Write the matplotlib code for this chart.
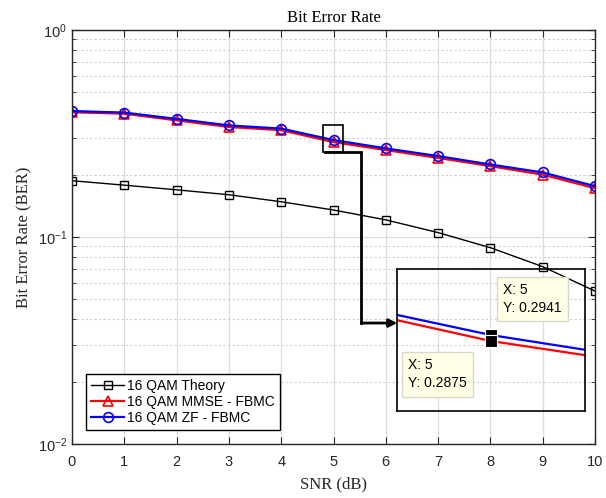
import matplotlib
matplotlib.use("Agg")
import matplotlib.pyplot as plt
from matplotlib.patches import Rectangle
from matplotlib.ticker import LogLocator, NullFormatter

snr_db = [0, 1, 2, 3, 4, 5, 6, 7, 8, 9, 10]
ber_theory = [0.187, 0.178, 0.169, 0.160, 0.148, 0.135, 0.121, 0.105, 0.0888, 0.0719, 0.0548]
ber_mmse = [0.401, 0.394, 0.366, 0.340, 0.328, 0.2875, 0.263, 0.241, 0.220, 0.200, 0.172]
ber_zf = [0.406, 0.399, 0.372, 0.346, 0.334, 0.2941, 0.268, 0.246, 0.224, 0.205, 0.176]

tip_x = 5
tip_mmse = 0.2875
tip_zf = 0.2941

SERIF = "Liberation Serif"
SANS = "Liberation Sans"
AX_COL = "#262626"

plt.rcParams["mathtext.fontset"] = "custom"
plt.rcParams["mathtext.rm"] = SANS
plt.rcParams["mathtext.it"] = SANS + ":italic"
plt.rcParams["mathtext.default"] = "regular"

fig = plt.figure(figsize=(6.06, 4.98), dpi=100)
ax = fig.add_axes([72 / 606, 1 - 444 / 498, 523 / 606, 414 / 498])

ax.semilogy(snr_db, ber_theory, "-s", color="black", lw=1.0, ms=5.5,
            mfc="none", mew=1.0, label="16 QAM Theory")
ax.semilogy(snr_db, ber_mmse, "-^", color="red", lw=1.6, ms=7,
            mfc="none", mew=1.2, label="16 QAM MMSE - FBMC")
ax.semilogy(snr_db, ber_zf, "-o", color="blue", lw=1.6, ms=7,
            mfc="none", mew=1.2, label="16 QAM ZF - FBMC")

ax.set_xlim(0, 10)
ax.set_ylim(1e-2, 1)
ax.set_xticks(snr_db)
ax.yaxis.set_major_locator(LogLocator(base=10, numticks=5))
ax.yaxis.set_minor_locator(LogLocator(base=10, subs=range(2, 10), numticks=20))
ax.yaxis.set_minor_formatter(NullFormatter())

ax.grid(True, which="major", color="#dcdcdc", lw=0.9, ls="-")
ax.grid(True, which="minor", axis="y", color="#d0d0d0", lw=0.8, ls=(0, (2, 2)))
ax.set_axisbelow(True)

ax.tick_params(which="both", direction="in", top=True, right=True,
               colors=AX_COL, labelcolor=AX_COL, labelsize=10.5)
ax.tick_params(which="major", length=5)
ax.tick_params(which="minor", length=3)
ax.tick_params(axis="x", which="major", pad=8)
for lab in ax.get_xticklabels() + ax.get_yticklabels():
    lab.set_fontfamily(SANS)
for sp in ax.spines.values():
    sp.set_color(AX_COL)
    sp.set_linewidth(1.0)

ax.set_title("Bit Error Rate", family=SERIF, fontsize=12, pad=6)
ax.set_xlabel("SNR (dB)", family=SERIF, fontsize=12, labelpad=5, color=AX_COL)
ax.set_ylabel("Bit Error Rate (BER)", family=SERIF, fontsize=12, labelpad=4,
              color=AX_COL)

leg = ax.legend(loc="lower left", bbox_to_anchor=(0.027, 0.034), fancybox=False,
                edgecolor="black", framealpha=1, borderaxespad=0,
                prop={"family": SANS, "size": 10}, handlelength=2.4,
                handletextpad=0.2, borderpad=0.35, labelspacing=0.15)
leg.get_frame().set_linewidth(1.0)

# zoom box around the data point at SNR = 5 dB
ax.add_patch(Rectangle((4.8, 0.257), 0.38, 0.348 - 0.257, fill=False,
                       ec="black", lw=1.2, zorder=5))
ax.plot([4.84, 5.53, 5.53], [0.257, 0.257, 0.0384], color="black", lw=2.0,
        zorder=5, clip_on=False, solid_joinstyle="miter")
ax.annotate("", xy=(6.22, 0.0384), xytext=(5.53, 0.0384),
            arrowprops=dict(arrowstyle="-|>", color="black", lw=2.0,
                            mutation_scale=12, shrinkA=0, shrinkB=0),
            zorder=5)

# magnified inset
axi = fig.add_axes([397 / 606, 1 - 411 / 498, 188 / 606, 142 / 498])
axi.patch.set_alpha(0.0)
axi.semilogy(snr_db, ber_mmse, "-", color="red", lw=1.6)
axi.semilogy(snr_db, ber_zf, "-", color="blue", lw=1.6)
axi.plot([tip_x, tip_x], [tip_zf, tip_mmse], "s", color="black", ms=8,
         mec="#fffff0", mew=0.8, ls="none", zorder=6)
axi.set_xlim(4.4, 5.6)
axi.set_ylim(0.2206, 0.3777)
axi.set_xticks([])
axi.set_yticks([])
axi.yaxis.set_minor_locator(plt.NullLocator())
for sp in axi.spines.values():
    sp.set_color("black")
    sp.set_linewidth(1.2)

box = dict(boxstyle="square,pad=0.45", fc="#ffffe6", ec="#d8d8c8", lw=1.0)
axi.text(0.565, 0.90, "X: %d\nY: %.4f" % (tip_x, tip_zf), transform=axi.transAxes,
         ha="left", va="top", family=SANS, fontsize=10, linespacing=1.35,
         bbox=box, zorder=7)
axi.text(0.06, 0.37, "X: %d\nY: %.4f" % (tip_x, tip_mmse), transform=axi.transAxes,
         ha="left", va="top", family=SANS, fontsize=10, linespacing=1.35,
         bbox=box, zorder=7)

fig.savefig("out.png", dpi=100)
